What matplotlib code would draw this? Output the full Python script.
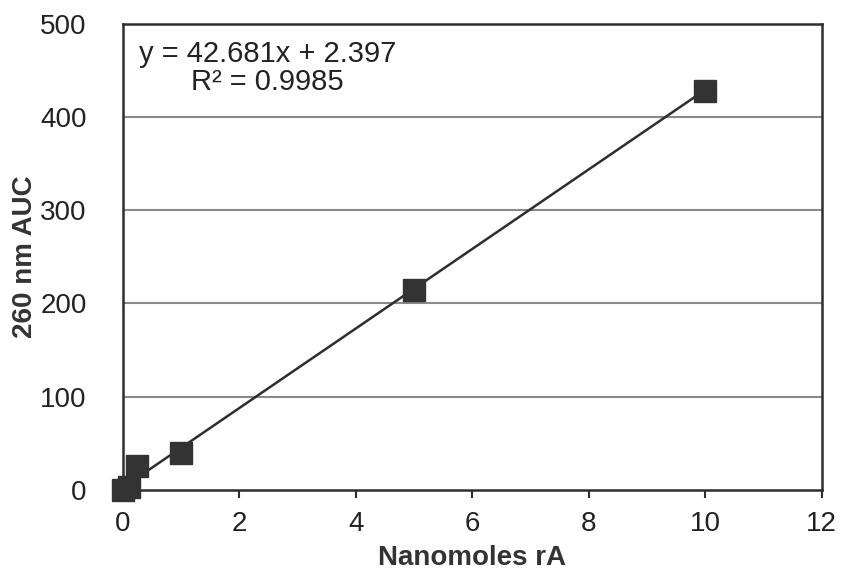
import matplotlib
matplotlib.use("Agg")
import matplotlib.pyplot as plt
import numpy as np

# Calibration data: nanomoles of rA vs. 260 nm peak area
nanomoles = [0.0, 0.1, 0.25, 1.0, 5.0, 10.0]
auc_260 = [0.0, 3.0, 25.0, 40.0, 214.0, 428.0]

# Linear fit reported on the chart
slope = 42.681
intercept = 2.397
r_squared = 0.9985

x_ticks = [0, 2, 4, 6, 8, 10, 12]
y_ticks = [0, 100, 200, 300, 400, 500]

plt.rcParams['font.family'] = ['Liberation Sans', 'DejaVu Sans']

fig = plt.figure(figsize=(8.42, 5.81), dpi=100)
ax = fig.add_axes([0.146, 0.157, 0.830, 0.802])

dark = '#2e2e2e'

# Horizontal gridlines
for yv in y_ticks[1:-1]:
    ax.axhline(yv, color='#8a8a8a', lw=1.5, zorder=1)

# Trendline over the data range
xl = np.array([min(nanomoles), max(nanomoles)])
ax.plot(xl, slope * xl + intercept, color=dark, lw=1.8, zorder=2)

# Data points
ax.plot(nanomoles, auc_260, linestyle='none', marker='s', markersize=16,
        color='#333333', markeredgecolor='#333333', zorder=3, clip_on=False)

ax.set_xlim(0, 12)
ax.set_ylim(0, 500)
ax.set_xticks(x_ticks)
ax.set_yticks(y_ticks)
ax.tick_params(axis='x', direction='out', length=6, width=1.5, color=dark,
               labelsize=20, pad=9, labelcolor='#222222')
ax.tick_params(axis='y', length=0, labelsize=20, pad=26, labelcolor='#222222')

for s in ax.spines.values():
    s.set_color(dark)
    s.set_linewidth(1.8)

ax.set_xlabel('Nanomoles rA', fontsize=20, fontweight='bold', color='#333333', labelpad=6)
ax.set_ylabel('260 nm AUC', fontsize=20, fontweight='bold', color='#333333', labelpad=2)

ax.text(0.207, 0.905, f'y = {slope}x + {intercept}\nR² = {r_squared}',
        transform=ax.transAxes, ha='center', va='center', multialignment='center',
        fontsize=21, color='#222222', linespacing=1.0)

fig.savefig('out.png', dpi=100, facecolor='white')
